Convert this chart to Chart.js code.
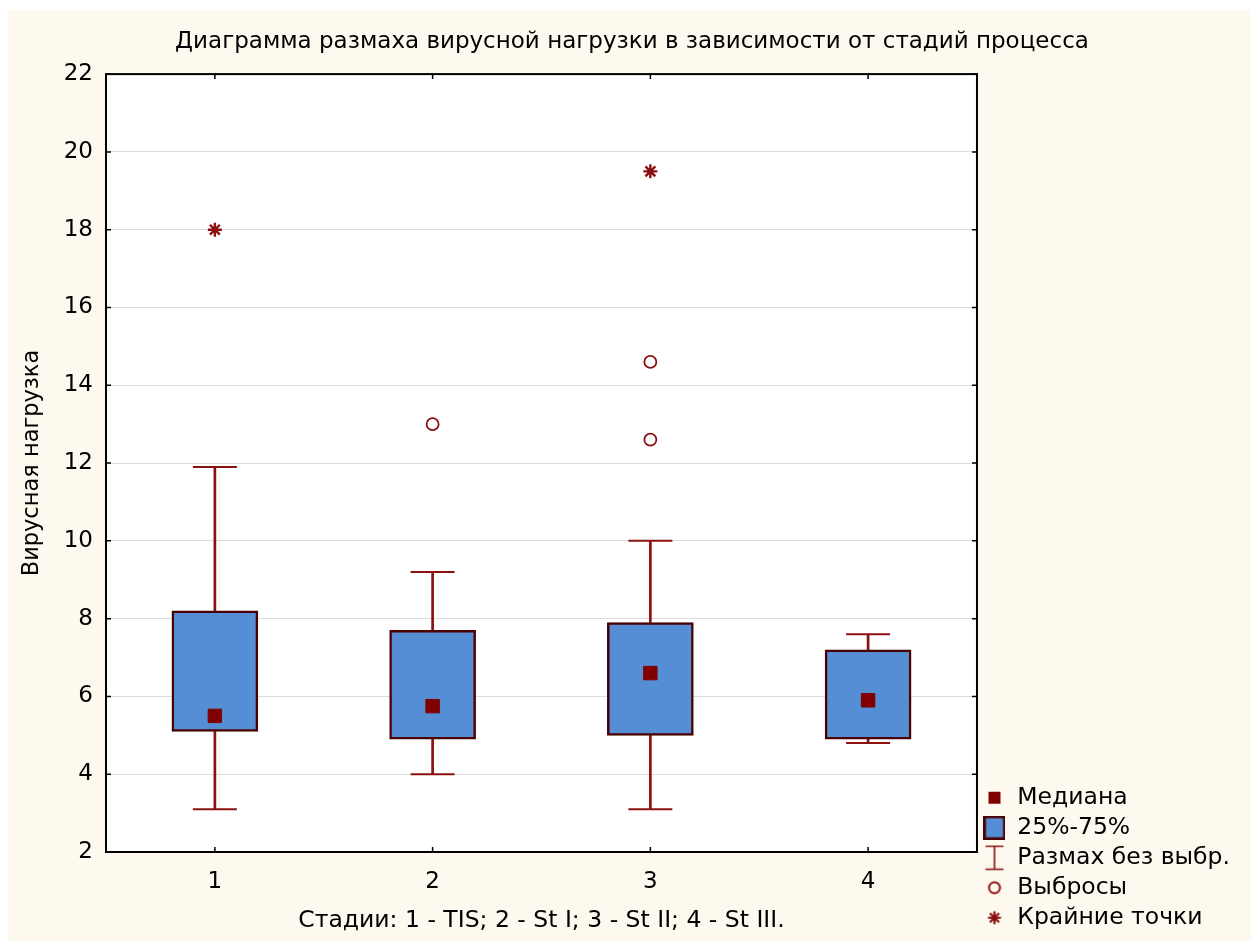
<!DOCTYPE html>
<html>
<head>
<meta charset="utf-8">
<title>Диаграмма размаха вирусной нагрузки</title>
<style>
  html, body { margin: 0; padding: 0; background: #ffffff; }
  #wrap { position: absolute; left: 8px; top: 10px; width: 1243px; height: 931px; background: #fdf9ee; }
  canvas { display: block; }
</style>
<script src="https://cdn.jsdelivr.net/npm/chart.js@4/dist/chart.umd.min.js"></script>
</head>
<body>
<div id="wrap"><canvas id="chart" width="1243" height="931"></canvas></div>
<script>
// Stages and box-plot statistics of the viral load
const stages = ['1', '2', '3', '4'];
const whiskerLow  = [3.1, 4.0, 3.1, 4.8];
const quartile1   = [5.1, 4.9, 5.0, 4.9];
const medians     = [5.5, 5.75, 6.6, 5.9];
const quartile3   = [8.2, 7.7, 7.9, 7.2];
const whiskerHigh = [11.9, 9.2, 10.0, 7.6];
const outliers    = [[], [13.0], [14.6, 12.6], []];
const extremes    = [[18.0], [], [19.5], []];

const yMin = 2, yMax = 22, yStep = 2;

const legendLabels = ['Медиана', '25%-75%', 'Размах без выбр.', 'Выбросы', 'Крайние точки'];

const FONT = "'DejaVu Sans', sans-serif";
const RED = '#8b1010';
const MEDIAN_RED = '#800000';
const BOX_FILL = '#558ed5';
const BOX_EDGE = '#4a0000';

// helpers: flatten per-stage point lists into {x, y} points
function pointsFrom(lists) {
  const pts = [];
  lists.forEach((vals, i) => vals.forEach(v => pts.push({ x: stages[i], y: v })));
  return pts;
}

// small canvases used as legend symbols
function icon(w, h, draw) {
  const c = document.createElement('canvas');
  c.width = w; c.height = h;
  draw(c.getContext('2d'), w, h);
  return c;
}
const legendIcons = [
  icon(14, 14, (g) => { g.fillStyle = MEDIAN_RED; g.fillRect(1, 1, 12, 12); }),
  icon(22, 24, (g) => {
    g.fillStyle = BOX_FILL; g.fillRect(1, 1, 20, 22);
    g.strokeStyle = BOX_EDGE; g.lineWidth = 2.5; g.strokeRect(1.25, 1.25, 19.5, 21.5);
  }),
  icon(20, 26, (g) => {
    g.strokeStyle = RED; g.lineWidth = 1.6; g.beginPath();
    g.moveTo(1, 1.5); g.lineTo(19, 1.5);
    g.moveTo(10, 1.5); g.lineTo(10, 24.5);
    g.moveTo(1, 24.5); g.lineTo(19, 24.5);
    g.stroke();
  }),
  icon(16, 16, (g) => {
    g.strokeStyle = RED; g.lineWidth = 2; g.beginPath();
    g.arc(8, 8, 5.5, 0, Math.PI * 2); g.stroke();
  }),
  icon(16, 16, (g) => {
    g.strokeStyle = RED; g.lineWidth = 2.2; g.beginPath();
    for (let k = 0; k < 4; k++) {
      const a = k * Math.PI / 4;
      g.moveTo(8 - Math.cos(a) * 6.5, 8 - Math.sin(a) * 6.5);
      g.lineTo(8 + Math.cos(a) * 6.5, 8 + Math.sin(a) * 6.5);
    }
    g.stroke();
  })
];

// white plot area, frame and inward tick marks
const plotFrame = {
  id: 'plotFrame',
  beforeDraw(chart) {
    const { ctx, chartArea: a } = chart;
    ctx.save();
    ctx.fillStyle = '#ffffff';
    ctx.fillRect(a.left, a.top, a.right - a.left, a.bottom - a.top);
    ctx.restore();
  },
  afterDatasetsDraw(chart) {
    const { ctx, chartArea: a, scales: { x, y } } = chart;
    ctx.save();
    ctx.strokeStyle = '#000000';
    ctx.lineWidth = 2;
    ctx.strokeRect(a.left, a.top, a.right - a.left, a.bottom - a.top);
    ctx.lineWidth = 1.5;
    ctx.beginPath();
    y.ticks.forEach(t => {
      const py = y.getPixelForValue(t.value);
      ctx.moveTo(a.left, py); ctx.lineTo(a.left + 5, py);
      ctx.moveTo(a.right, py); ctx.lineTo(a.right - 5, py);
    });
    x.ticks.forEach((t, i) => {
      const px = x.getPixelForTick(i);
      ctx.moveTo(px, a.bottom); ctx.lineTo(px, a.bottom - 5);
      ctx.moveTo(px, a.top); ctx.lineTo(px, a.top + 5);
    });
    ctx.stroke();
    ctx.restore();
  }
};

new Chart(document.getElementById('chart'), {
  type: 'bar',
  data: {
    labels: stages,
    datasets: [
      {
        label: 'whisker-low',
        data: stages.map((s, i) => [whiskerLow[i], quartile1[i]]),
        backgroundColor: RED, borderWidth: 0,
        barThickness: 2, grouped: false, order: 3
      },
      {
        label: 'whisker-high',
        data: stages.map((s, i) => [quartile3[i], whiskerHigh[i]]),
        backgroundColor: RED, borderWidth: 0,
        barThickness: 2, grouped: false, order: 3
      },
      {
        label: 'box',
        data: stages.map((s, i) => [quartile1[i], quartile3[i]]),
        backgroundColor: BOX_FILL, borderColor: BOX_EDGE, borderWidth: 2.5,
        borderSkipped: false, barThickness: 86, grouped: false, order: 2
      },
      {
        type: 'line', label: 'caps',
        data: stages.flatMap((s, i) => [{ x: s, y: whiskerLow[i] }, { x: s, y: whiskerHigh[i] }]),
        showLine: false, pointStyle: 'line', pointRadius: 22,
        pointBorderColor: RED, pointBorderWidth: 2, order: 1
      },
      {
        type: 'line', label: 'median',
        data: stages.map((s, i) => ({ x: s, y: medians[i] })),
        showLine: false, pointStyle: 'rect', pointRadius: 9.5,
        pointBackgroundColor: MEDIAN_RED, pointBorderColor: MEDIAN_RED, pointBorderWidth: 1, order: 0
      },
      {
        type: 'line', label: 'outliers',
        data: pointsFrom(outliers),
        showLine: false, pointStyle: 'circle', pointRadius: 6,
        pointBackgroundColor: '#ffffff', pointBorderColor: RED, pointBorderWidth: 1.8, order: 0
      },
      {
        type: 'line', label: 'extremes',
        data: pointsFrom(extremes),
        showLine: false, pointStyle: 'star', pointRadius: 7,
        pointBorderColor: RED, pointBorderWidth: 2.4, order: 0
      }
    ]
  },
  options: {
    responsive: false,
    animation: false,
    events: [],
    layout: { padding: { top: 0, left: 16, right: 11, bottom: 5 } },
    plugins: {
      title: {
        display: true,
        text: 'Диаграмма размаха вирусной нагрузки в зависимости от стадий процесса',
        color: '#000000',
        font: { family: FONT, size: 23, weight: 'normal' },
        padding: { top: 18.5, bottom: 18 }
      },
      legend: {
        display: true,
        position: 'right',
        align: 'end',
        onClick: null,
        labels: {
          usePointStyle: true,
          pointStyleWidth: 22,
          padding: 6.5,
          color: '#000000',
          font: { family: FONT, size: 23.5 },
          generateLabels: () => legendLabels.map((text, i) => ({
            text,
            pointStyle: legendIcons[i],
            fillStyle: 'transparent',
            strokeStyle: 'transparent',
            lineWidth: 0,
            fontColor: '#000000',
            hidden: false,
            index: i
          }))
        }
      },
      tooltip: { enabled: false }
    },
    scales: {
      x: {
        type: 'category',
        offset: true,
        grid: { display: false, drawTicks: false },
        border: { display: false },
        ticks: { color: '#000000', font: { family: FONT, size: 23 }, padding: 16 },
        title: {
          display: true,
          text: 'Стадии: 1 - TIS; 2 - St I; 3 - St II; 4 - St III.',
          color: '#000000',
          font: { family: FONT, size: 23.5 },
          padding: { top: 0, bottom: 1 }
        },
        afterFit: (scale) => { scale.height = 84; }
      },
      y: {
        min: yMin, max: yMax,
        grid: { color: '#dcdcdc', lineWidth: 1, drawTicks: false },
        border: { display: false },
        ticks: { stepSize: yStep, color: '#000000', font: { family: FONT, size: 23 }, padding: 13 },
        title: {
          display: true,
          text: 'Вирусная нагрузка',
          color: '#000000',
          font: { family: FONT, size: 22.5 },
          padding: { top: -5, bottom: 0 }
        },
        afterFit: (scale) => { scale.width = 82; }
      }
    }
  },
  plugins: [plotFrame]
});
</script>
</body>
</html>
